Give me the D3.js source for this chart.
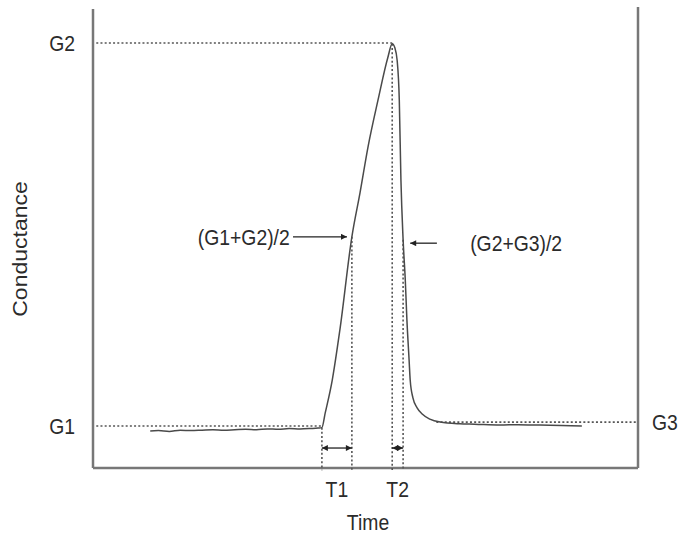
<!DOCTYPE html>
<html>
<head>
<meta charset="utf-8">
<script src="https://cdn.jsdelivr.net/npm/d3@7"></script>
<style>
  body { margin: 0; background: #fff; }
  text { font-family: "Liberation Sans", Arial, sans-serif; fill: #2b2b2b; }
</style>
</head>
<body>
<div class="canvas"></div>
<script>
// conductance trace (arbitrary units)
const time = [10.5, 12, 14, 16, 18, 20, 22, 24, 26, 28, 30, 32, 34, 36, 38, 40, 41.3, 42.0,
  42.6, 43.9, 45.3, 47.5, 49.0, 50.5, 52.3, 54.1, 54.9, 55.4, 55.8, 56.2, 56.5, 56.9,
  57.3, 57.6, 58.0, 58.2, 58.7, 59.5, 60.4, 61.8, 63.7, 67.3, 70, 74.7, 78, 82, 86, 89.7];
const conductance = [8.7, 8.8, 8.6, 8.9, 8.8, 8.9, 9.0, 8.9, 9.0, 9.1, 9.0, 9.2, 9.1, 9.3, 9.2, 9.3, 9.4, 9.5,
  12.9, 20.7, 32.5, 54.4, 64.8, 75.8, 86.6, 96.6, 99.8, 98.8, 96.0, 86.6, 67.8, 53.7,
  44.2, 34.8, 25.4, 20.7, 16.5, 14.1, 12.7, 11.5, 10.8, 10.4, 10.3, 10.1, 10.2, 10.1, 10.0, 9.9];

const levelNames = ["G1", "G2", "G3"];
const levelValues = [9.9, 100, 10.8];
const intervalNames = ["T1", "T2"];
const intervalStart = [42.0, 54.9];
const intervalEnd = [47.5, 56.9];
const intervalTop = [9.5, 99.8];     // where the left dotted marker meets the trace
const intervalEndTop = [54.4, 53.7]; // where the right dotted marker meets the trace
const midNames = ["(G1+G2)/2", "(G2+G3)/2"];
const midLevels = [54.4, 52.9];

const W = 680, H = 536;
const svg = d3.select(".canvas").append("svg").attr("width", W).attr("height", H);

let x = d3.scaleLinear().domain([0, 100]).range([93, 638]);
let y = d3.scaleLinear().domain([0, 108]).range([468, 9]);

const sx = 0.88; // the figure's type is a little narrow
let label = (tx, ty, str, anchor, size) =>
  svg.append("text")
    .attr("transform", `translate(${tx},${ty}) scale(${sx},1)`)
    .attr("text-anchor", anchor)
    .style("font-size", (size || 22) + "px")
    .text(str);

const defs = svg.append("defs");
defs.append("marker")
  .attr("id", "head")
  .attr("viewBox", "0 0 10 10")
  .attr("refX", 10).attr("refY", 5)
  .attr("markerWidth", 8).attr("markerHeight", 6)
  .attr("markerUnits", "userSpaceOnUse")
  .attr("orient", "auto-start-reverse")
  .append("path").attr("d", "M0,0L10,5L0,10z").attr("fill", "#222");

// frame
const axisColor = "#777";
svg.append("line").attr("x1", x(0)).attr("x2", x(0)).attr("y1", y(0)).attr("y2", y(108))
  .attr("stroke", axisColor).attr("stroke-width", 2.5);
svg.append("line").attr("x1", x(0)).attr("x2", x(100)).attr("y1", y(0)).attr("y2", y(0))
  .attr("stroke", axisColor).attr("stroke-width", 2.5);
svg.append("line").attr("x1", x(100)).attr("x2", x(100)).attr("y1", y(0)).attr("y2", y(108.5))
  .attr("stroke", axisColor).attr("stroke-width", 2.5);

// dotted level lines
const dots = { stroke: "#555", "stroke-width": 1.6, "stroke-dasharray": "2,2.2" };
let dotted = (x1, y1, x2, y2) => {
  let l = svg.append("line").attr("x1", x1).attr("y1", y1).attr("x2", x2).attr("y2", y2);
  Object.entries(dots).forEach(([k, v]) => l.attr(k, v));
};
dotted(x(0.6), y(levelValues[0]), x(intervalStart[0]), y(levelValues[0]));
dotted(x(0.6), y(levelValues[1]), x(intervalStart[1]), y(levelValues[1]));
dotted(x(63), y(levelValues[2]), x(100), y(levelValues[2]));

// vertical interval markers
intervalNames.forEach((n, i) => {
  dotted(x(intervalStart[i]), y(intervalTop[i]), x(intervalStart[i]), y(-0.5));
  dotted(x(intervalEnd[i]), y(intervalEndTop[i]), x(intervalEnd[i]), y(-0.5));
  svg.append("line")
    .attr("x1", x(intervalStart[i])).attr("x2", x(intervalEnd[i]))
    .attr("y1", y(4.7)).attr("y2", y(4.7))
    .attr("stroke", "#222").attr("stroke-width", 1.3)
    .attr("marker-start", "url(#head)").attr("marker-end", "url(#head)");
  label((x(intervalStart[i]) + x(intervalEnd[i])) / 2, 497, n, "middle");
});

// trace
const pts = time.map((t, i) => [t, conductance[i]]);
let line = d3.line().x((d) => x(d[0])).y((d) => y(d[1])).curve(d3.curveMonotoneX);
svg.append("path").datum(pts).attr("d", line)
  .attr("fill", "none").attr("stroke", "#4a4a4a").attr("stroke-width", 1.5);

// level labels
label(75, y(levelValues[0]) + 8, levelNames[0], "end");
label(75, y(levelValues[1]) + 8, levelNames[1], "end");
label(652, y(levelValues[2]) + 8, levelNames[2], "start");

// half-height annotations
svg.append("line").attr("x1", x(36.7)).attr("x2", x(46.6))
  .attr("y1", y(midLevels[0])).attr("y2", y(midLevels[0]))
  .attr("stroke", "#222").attr("stroke-width", 1.3).attr("marker-end", "url(#head)");
label(x(36.1), y(midLevels[0]) + 8, midNames[0], "end");
svg.append("line").attr("x1", x(63.1)).attr("x2", x(58.2))
  .attr("y1", y(midLevels[1])).attr("y2", y(midLevels[1]))
  .attr("stroke", "#222").attr("stroke-width", 1.3).attr("marker-end", "url(#head)");
label(x(69.2), y(midLevels[1]) + 8, midNames[1], "start");

// axis titles
label(368, 530, "Time", "middle");
svg.append("text")
  .attr("transform", `translate(27,249) scale(${sx},1) rotate(-90)`)
  .attr("text-anchor", "middle")
  .style("font-size", "23px")
  .text("Conductance");
</script>
</body>
</html>
